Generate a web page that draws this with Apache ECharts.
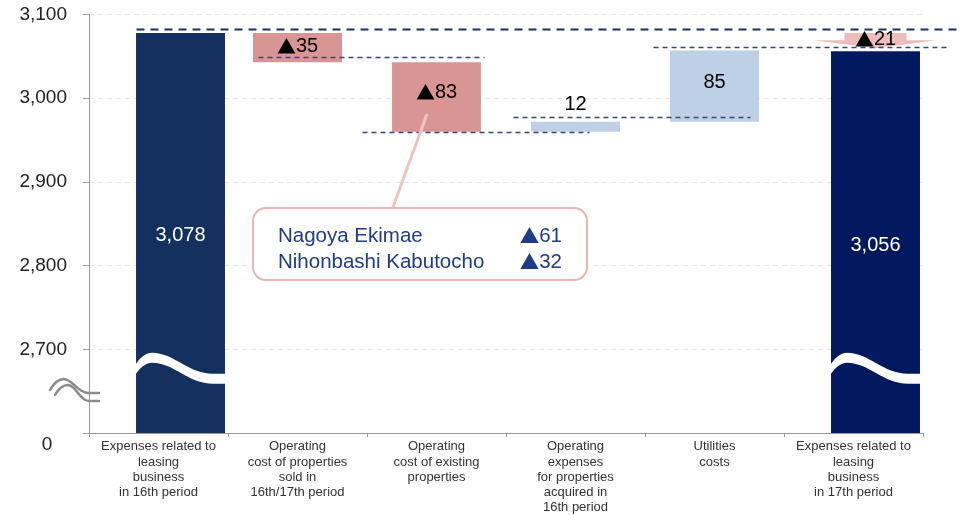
<!DOCTYPE html>
<html>
<head>
<meta charset="utf-8">
<script src="https://cdn.jsdelivr.net/npm/echarts@6/dist/echarts.min.js"></script>
<style>html,body{margin:0;padding:0;background:#fff;}#c{width:960px;height:516px;}</style>
</head>
<body>
<div id="c"></div>
<script>
// ---------- data ----------
const categories = [
  'Expenses related to\nleasing\nbusiness\nin 16th period',
  'Operating\ncost of properties\nsold in\n16th/17th period',
  'Operating\ncost of existing\nproperties',
  'Operating\nexpenses\nfor properties\nacquired in\n16th period',
  'Utilities\ncosts',
  'Expenses related to\nleasing\nbusiness\nin 17th period'
];
const barValues = [3078, -35, -83, 12, 85, 3056];
const barKinds  = ['total', 'decrease', 'decrease', 'increase', 'increase', 'total'];
const barLabels = ['3,078', '▲35', '▲83', '12', '85', '3,056'];
const netChangeLabel = '▲21';
const yMin = 2600, yMax = 3100, yStep = 100;
const bottomTickLabel = '0';
const breakLevel = 2690;
// dashed guide lines: level, from/to category
const guideLevels = [3083, 3049, 2960, 2977, 3061];
const guideFrom   = [0, 1, 2, 3, 4];
const guideTo     = [5, 2, 3, 4, 5];
const calloutNames  = ['Nagoya Ekimae', 'Nihonbashi Kabutocho'];
const calloutValues = ['▲61', '▲32'];

// ---------- styles ----------
const FONT = '"Liberation Sans", Arial, sans-serif';
const TRI_FONT = '"Noto Sans CJK JP", "DejaVu Sans", sans-serif';
const colors = { total0: '#13305f', total1: '#02185f', decrease: '#d99594', increase: '#bed0e6' };
const guideOffsets = [[-22, 103], [-39, 48], [-74, 14], [-62, 36], [-61, 95]];
const totalShift = 22;

function triText(s) { return s.replace('▲', '{t|▲}'); }
function triRich(size, color) { return { t: { fontFamily: TRI_FONT, fontSize: size - 1, fill: color } }; }

// build waterfall rows
let cum = 0;
const barRows = barValues.map((v, i) => {
  let lo, hi;
  if (barKinds[i] === 'total') { lo = 0; hi = v; cum = v; }
  else { lo = cum; hi = cum + v; cum = hi; }
  return [i, lo, hi, barKinds[i] === 'total' ? (i === 0 ? 0 : 1) : (v < 0 ? 2 : 3)];
});
const guideRows = guideLevels.map((lv, k) => [guideFrom[k], guideTo[k], lv, k]);
const netRows = [[barValues.length - 1, barValues[0], barValues[barValues.length - 1]]];

const chart = echarts.init(document.getElementById('c'), null, { renderer: 'canvas' });

function barRender(params, api) {
  const i = api.value(0), lo = api.value(1), hi = api.value(2), k = api.value(3);
  const band = api.size([1, 0])[0];
  const bw = band * 0.64;
  const isTotal = k < 2;
  const cx = api.coord([i, hi])[0] + (isTotal ? totalShift : 0);
  const yA = api.coord([i, Math.max(Math.min(lo, hi), yMin)])[1];
  const yB = api.coord([i, Math.max(lo, hi)])[1];
  const L = cx - bw / 2, R = cx + bw / 2;
  const fill = [colors.total0, colors.total1, colors.decrease, colors.increase][k];
  const children = [{ type: 'rect', shape: { x: L, y: yB, width: bw, height: yA - yB }, style: { fill: fill } }];
  if (isTotal) {
    const w = api.coord([i, breakLevel])[1];
    const d = `M${L},${w+6} C${L+5},${w-1} ${L+10},${w-5} ${L+16},${w-5} C${L+38},${w-5} ${L+52},${w+16} ${R-12},${w+16} L${R},${w+16} L${R},${w+26} L${R-12},${w+26} C${L+52},${w+26} ${L+38},${w+5} ${L+16},${w+5} C${L+10},${w+5} ${L+5},${w+9} ${L},${w+16} Z`;
    children.push({ type: 'path', shape: { pathData: d }, style: { fill: '#ffffff' } });
  }
  const h = yA - yB;
  let ty, tcol;
  if (isTotal) { ty = (yA + yB) / 2 + 3; tcol = '#ffffff'; }
  else if (h >= 20) { ty = (yA + yB) / 2 - (h > 50 ? 4 : 1); tcol = '#000000'; }
  else { ty = yB - 17; tcol = '#000000'; }
  children.push({ type: 'text', x: cx, y: ty, style: { text: triText(barLabels[i]), rich: triRich(20, tcol), fill: tcol, font: '20px ' + FONT, align: 'center', verticalAlign: 'middle' }, z2: 10 });
  return { type: 'group', children: children };
}

function guideRender(params, api) {
  const f = api.value(0), t = api.value(1), lv = api.value(2), k = api.value(3);
  const y = Math.round(api.coord([f, lv])[1]) + 0.5;
  const x1 = api.coord([f, lv])[0] + guideOffsets[k][0];
  const x2 = api.coord([t, lv])[0] + guideOffsets[k][1];
  const thick = k === 0;
  return { type: 'line', shape: { x1: x1, y1: y, x2: x2, y2: y },
    style: { stroke: thick ? '#1b3266' : '#34497a', lineWidth: thick ? 2 : 1.5, lineDash: thick ? [8, 6] : [5, 4] }, z2: 20 };
}

function netRender(params, api) {
  const i = api.value(0), from = api.value(1), to = api.value(2);
  const cx = api.coord([i, from])[0] + totalShift;
  const yTop = api.coord([i, from])[1];
  const tip = api.coord([i, to])[1] - 3;
  const base = tip - 8;
  const pts = [[cx - 31, yTop], [cx + 31, yTop], [cx + 31, base], [cx + 61, base], [cx, tip], [cx - 62, base], [cx - 31, base]];
  return { type: 'group', children: [
    { type: 'polygon', shape: { points: pts }, style: { fill: '#edbdbd' } },
    { type: 'text', x: cx, y: yTop + 7, style: { text: triText(netChangeLabel), rich: triRich(20, '#000'), fill: '#000', font: '20px ' + FONT, align: 'center', verticalAlign: 'middle' }, z2: 30 }
  ] };
}

const breakStroke = { stroke: '#8c8c8c', lineWidth: 2.5, fill: null, lineCap: 'round' };
const calloutColor = '#1f3c88';
function calloutText(x, y, s, align) {
  return { type: 'text', x: x, y: y, z: 52, style: { text: triText(s), rich: triRich(20.5, calloutColor), fill: calloutColor, font: '20.5px ' + FONT, align: align, verticalAlign: 'middle' } };
}
const option = {
  animation: false,
  backgroundColor: '#ffffff',
  grid: { left: 89, right: 37, top: 14.5, bottom: 83, containLabel: false, outerBoundsMode: 'none' },
  xAxis: {
    type: 'category', data: categories,
    axisLine: { lineStyle: { color: '#999999', width: 1 } },
    axisTick: { show: true, length: 4, lineStyle: { color: '#999999' } },
    axisLabel: { interval: 0, color: '#333333', fontSize: 13, fontFamily: FONT, lineHeight: 15.3, margin: 6 },
    splitLine: { show: false }
  },
  yAxis: {
    type: 'value', min: yMin, max: yMax, interval: yStep,
    axisLine: { show: true, lineStyle: { color: '#999999', width: 1 } },
    axisTick: { show: true, length: 6, lineStyle: { color: '#999999' } },
    axisLabel: { color: '#222222', fontSize: 19, fontFamily: FONT, margin: 22,
      formatter: v => v === yMin ? '' : v.toLocaleString('en-US') },
    splitLine: { show: true, lineStyle: { color: '#e8e8e8', type: [5, 4] } }
  },
  series: [
    { type: 'custom', name: 'bars', data: barRows, encode: { x: 0, y: [1, 2] }, renderItem: barRender, clip: false, z: 2 },
    { type: 'custom', name: 'guides', data: guideRows, encode: { x: 0, y: 2 }, renderItem: guideRender, clip: false, z: 4 },
    { type: 'custom', name: 'net', data: netRows, encode: { x: 0, y: [1, 2] }, renderItem: netRender, clip: false, z: 3 }
  ],
  graphic: [
    { type: 'text', x: 47, y: 445, style: { text: bottomTickLabel, fill: '#222', font: '19px ' + FONT, align: 'center', verticalAlign: 'middle' } },
    { type: 'bezierCurve', shape: { x1: 50, y1: 390, cpx1: 54, cpy1: 383, cpx2: 59, cpy2: 379, x2: 64, y2: 379 }, style: breakStroke, z: 60 },
    { type: 'bezierCurve', shape: { x1: 64, y1: 379, cpx1: 72, cpy1: 379, cpx2: 78, cpy2: 393, x2: 88, y2: 393 }, style: breakStroke, z: 60 },
    { type: 'line', shape: { x1: 88, y1: 393, x2: 99, y2: 393 }, style: breakStroke, z: 60 },
    { type: 'bezierCurve', shape: { x1: 55, y1: 395, cpx1: 59, cpy1: 388, cpx2: 63, cpy2: 385, x2: 68, y2: 385 }, style: breakStroke, z: 60 },
    { type: 'bezierCurve', shape: { x1: 68, y1: 385, cpx1: 76, cpy1: 385, cpx2: 80, cpy2: 401, x2: 89, y2: 401 }, style: breakStroke, z: 60 },
    { type: 'line', shape: { x1: 89, y1: 401, x2: 99, y2: 401 }, style: breakStroke, z: 60 },
    { type: 'line', shape: { x1: 427, y1: 114, x2: 393, y2: 207 }, style: { stroke: '#efc3c3', lineWidth: 3 }, z: 50 },
    { type: 'rect', shape: { x: 253, y: 208, width: 334, height: 72, r: 13 }, style: { fill: '#ffffff', stroke: '#e8b6b6', lineWidth: 2 }, z: 51 },
    calloutText(278, 236, calloutNames[0], 'left'),
    calloutText(278, 262, calloutNames[1], 'left'),
    calloutText(562, 236, calloutValues[0], 'right'),
    calloutText(562, 262, calloutValues[1], 'right')
  ]
};
chart.setOption(option);
</script>
</body>
</html>
